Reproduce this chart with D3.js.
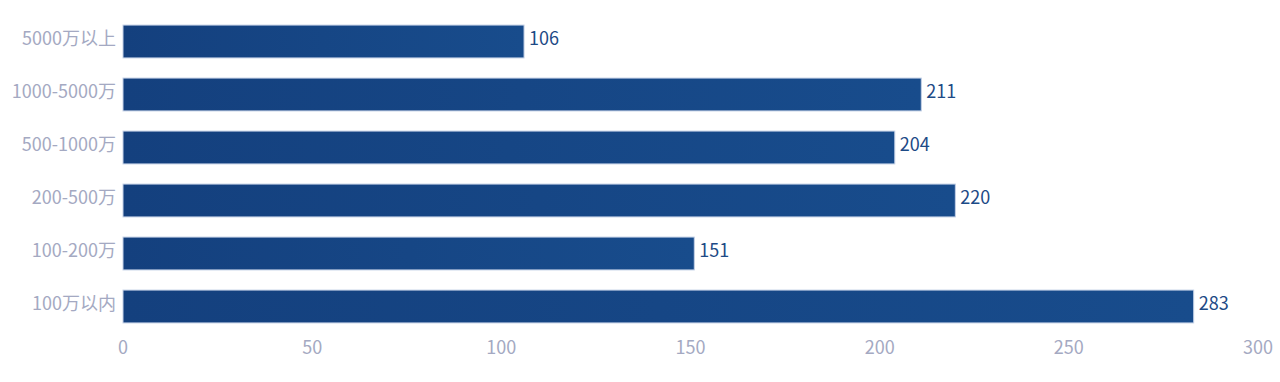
<!DOCTYPE html>
<html lang="zh">
<head>
<meta charset="UTF-8">
<title>Bar</title>
<script src="https://d3js.org/d3.v7.min.js"></script>
<style>
  body { margin: 0; background: #fff; }
  svg text { font-family: "Noto Sans CJK SC", "Noto Sans", sans-serif; }
</style>
</head>
<body>
<svg id="chart" width="1280" height="382"></svg>
<script>
const categories = ["5000万以上", "1000-5000万", "500-1000万", "200-500万", "100-200万", "100万以内"];
const values = [106, 211, 204, 220, 151, 283];
const xTicks = [0, 50, 100, 150, 200, 250, 300];

const svg = d3.select("#chart");

const x = d3.scaleLinear().domain([0, 300]).range([123, 1258]);
const y = d3.scaleBand().domain(categories).range([15, 333])
    .paddingInner(0.38).paddingOuter(0.19);

// subtle gradient for bars
const defs = svg.append("defs");
const grad = defs.append("linearGradient").attr("id", "barGrad")
    .attr("x1", "0").attr("x2", "1").attr("y1", "0").attr("y2", "0");
grad.append("stop").attr("offset", "0%").attr("stop-color", "#14407e");
grad.append("stop").attr("offset", "100%").attr("stop-color", "#184c8c");

const data = categories.map((c, i) => ({cat: c, val: values[i]}));

svg.selectAll(".bar")
    .data(data)
    .enter().append("rect")
    .attr("class", "bar")
    .attr("x", x(0))
    .attr("y", d => y(d.cat))
    .attr("width", d => x(d.val) - x(0))
    .attr("height", y.bandwidth())
    .attr("fill", "url(#barGrad)")
    .attr("stroke", "#c3d0e6")
    .attr("stroke-width", 1);

svg.selectAll(".val")
    .data(data)
    .enter().append("text")
    .attr("class", "val")
    .attr("x", d => x(d.val) + 5)
    .attr("y", d => y(d.cat) + y.bandwidth() / 2)
    .attr("dy", "0.22em")
    .attr("fill", "#1d4a86")
    .style("font-size", "18px")
    .text(d => d.val);

// category labels
svg.selectAll(".cat")
    .data(categories)
    .enter().append("text")
    .attr("class", "cat")
    .attr("x", 116)
    .attr("y", d => y(d) + y.bandwidth() / 2)
    .attr("dy", "0.22em")
    .attr("text-anchor", "end")
    .attr("fill", "#a4a9c2")
    .style("font-size", "18px")
    .text(d => d);

// x tick labels
svg.selectAll(".tick-x")
    .data(xTicks)
    .enter().append("text")
    .attr("class", "tick-x")
    .attr("x", d => x(d))
    .attr("y", 349)
    .attr("dy", "0.3em")
    .attr("text-anchor", "middle")
    .attr("fill", "#a4a9c2")
    .style("font-size", "18px")
    .text(d => d);
</script>
</body>
</html>
